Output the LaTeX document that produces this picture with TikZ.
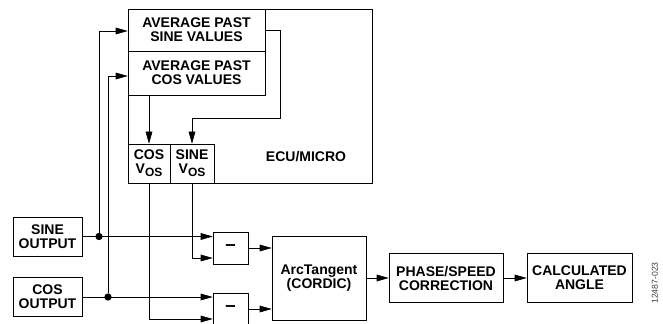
\documentclass[tikz,border=0pt]{standalone}
\usepackage{fontspec}
\setmainfont{Liberation Sans}
\usepackage{tikz}
\usetikzlibrary{positioning}
\usetikzlibrary{calc,arrows.meta}
\newcommand{\vos}{V\raisebox{-0.45ex}{\fontsize{9}{9}\selectfont OS}}
\tikzset{
  ->,>={Triangle[length=9pt,width=5pt]},
  line width=1.2pt,
  block/.style ={rectangle, draw, inner sep=0pt, align=center,
   font=\fontsize{10.5}{10.5}\selectfont\bfseries},
  junction/.style = {circle, fill=black, inner sep=0pt,
   minimum size=5.5pt, node contents={}},
}

\begin{document}
\begin{tikzpicture}[x=0.75pt,y=-0.75pt]
\useasboundingbox (0,0) rectangle (663,324);
% ecu box and its blocks
\node at(250,96) (ecu) [block, minimum width=244*0.75, minimum height=174*0.75] {};
\node at(306,157) (ecutxt) [font=\fontsize{10.5}{10.5}\selectfont\bfseries] {ECU/MICRO};
\node at(196.5,30) (avgsin) [block, minimum width=137*0.75, minimum height=42*0.75] {AVERAGE PAST\\SINE VALUES};
\node at(196.5,73) (avgcos) [block, minimum width=137*0.75, minimum height=44*0.75] {AVERAGE PAST\\COS VALUES};
\node at(149,163.5) (cosvos) [block, minimum width=42*0.75, minimum height=39*0.75] {COS\\\vos};
\node at(192,163.5) (sinvos) [block, minimum width=44*0.75, minimum height=39*0.75] {SINE\\\vos};
% outputs and processing chain
\node at(47.5,236.5) (sinout) [block, minimum width=69*0.75, minimum height=39*0.75] {SINE\\OUTPUT};
\node at(47.5,297) (cosout) [block, minimum width=69*0.75, minimum height=39*0.75] {COS\\OUTPUT};
\node at(230.5,248) (minus1) [block, minimum width=35*0.75, minimum height=32*0.75, font=\fontsize{14}{14}\selectfont\bfseries] {--};
\node at(230.5,309) (minus2) [block, minimum width=35*0.75, minimum height=32*0.75, font=\fontsize{14}{14}\selectfont\bfseries] {--};
\node at(319,278) (arctan) [block, minimum width=94*0.75, minimum height=84*0.75] {ArcTangent\\(CORDIC)};
\node at(446,278) (phase) [block, minimum width=114*0.75, minimum height=49*0.75] {PHASE/SPEED\\CORRECTION};
\node at(579.5,278) (calcang) [block, minimum width=105*0.75, minimum height=49*0.75] {CALCULATED\\ANGLE};
\node at(655,283) (figno) [rotate=90, font=\fontsize{6.5}{6.5}\selectfont, text=black!75] {12487-023};
% junctions
\node at(99,236.5) (sdot) [junction];
\node at(108,297) (cdot) [junction];
% connections
\draw (sinout.east) -- (sinout.east -| minus1.west);
\draw (cosout.east) -- (cosout.east -| minus2.west);
\draw (sdot) |- ($(avgsin.west)+(0,1)$);
\draw (cdot) |- ($(avgcos.west)+(0,3)$);
\draw (cosvos.north |- avgcos.south) -- (cosvos.north);
\draw (avgsin.east) -- ++(15,0) -- ++(0,88) -| (sinvos.north);
\draw (sinvos.south) |- ($(minus1.west)+(0,10)$);
\draw (cosvos.south) |- ($(minus2.west)+(0,10)$);
\draw (minus1.east) -- (minus1.east -| arctan.west);
\draw (minus2.east) -- (minus2.east -| arctan.west);
\path (arctan) edge (phase);
\path (phase) edge (calcang);
\end{tikzpicture}
\end{document}
